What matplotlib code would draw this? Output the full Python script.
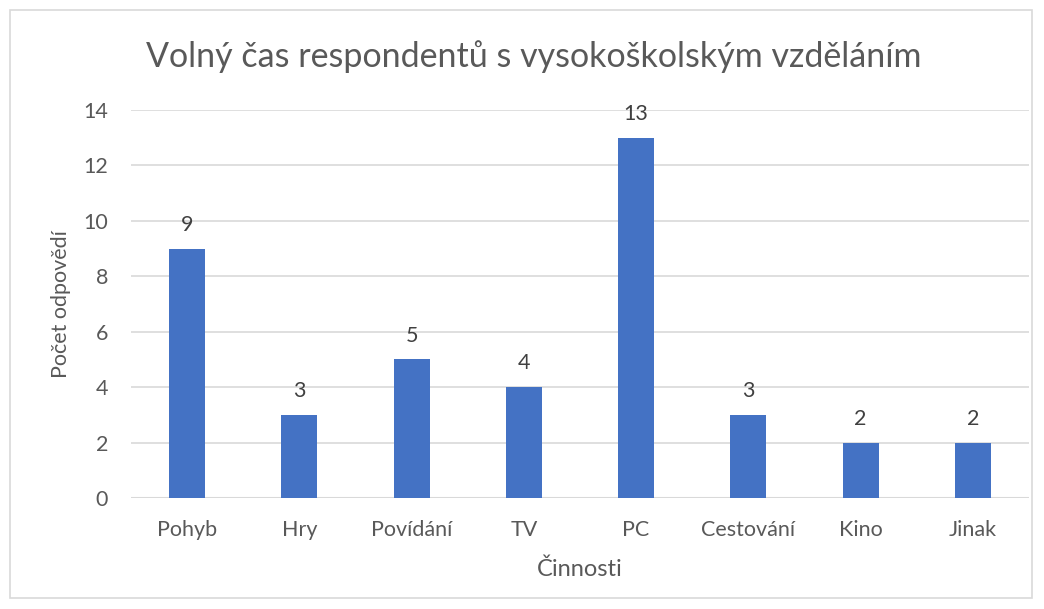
import matplotlib
matplotlib.use("Agg")
import matplotlib.pyplot as plt
from matplotlib.patches import Rectangle

categories = ["Pohyb", "Hry", "Povídání", "TV", "PC", "Cestování", "Kino", "Jinak"]
values = [9, 3, 5, 4, 13, 3, 2, 2]
yticks = [0, 2, 4, 6, 8, 10, 12, 14]

plt.rcParams['font.family'] = ['Lato', 'DejaVu Sans']
txt = '#595959'

W, H = 1044, 609
fig = plt.figure(figsize=(W/100, H/100), dpi=100)
fig.patches.append(Rectangle((10/W, 1 - 598/H), 1022/W, 588/H, transform=fig.transFigure,
                             fill=False, edgecolor='#d9d9d9', linewidth=1.2))

left, right, top, bottom = 131, 1029, 110, 498
ax = fig.add_axes([left/W, 1 - bottom/H, (right-left)/W, (bottom-top)/H])
x = list(range(len(categories)))
bars = ax.bar(x, values, width=0.32, color='#4472C4', zorder=3)
ax.set_xlim(-0.5, len(categories) - 0.5)
ax.set_ylim(0, 14)
ax.set_yticks(yticks)
ax.set_xticks(x)
ax.set_xticklabels(categories)
ax.grid(axis='y', color='#d9d9d9', linewidth=1.2, zorder=0)
for s in ax.spines.values():
    s.set_visible(False)
ax.axhline(0, color='#d9d9d9', linewidth=1.5, zorder=2)
ax.tick_params(axis='both', length=0, labelsize=15.5, labelcolor=txt)
ax.tick_params(axis='x', pad=16)
ax.tick_params(axis='y', pad=16.5)
for b, v in zip(bars, values):
    ax.annotate(str(v), (b.get_x() + b.get_width()/2, v), xytext=(0, 10),
                textcoords='offset points', ha='center', va='bottom',
                fontsize=15.5, color='#404040')
ax.set_ylabel("Počet odpovědí", fontsize=15.5, color=txt, labelpad=9)
ax.set_xlabel("Činnosti", fontsize=17, color=txt, labelpad=13)
fig.text(534/W, 1 - 57/H, "Volný čas respondentů s vysokoškolským vzděláním",
         ha='center', va='center', fontsize=24.5, color=txt)
fig.savefig("out.png", dpi=100)
